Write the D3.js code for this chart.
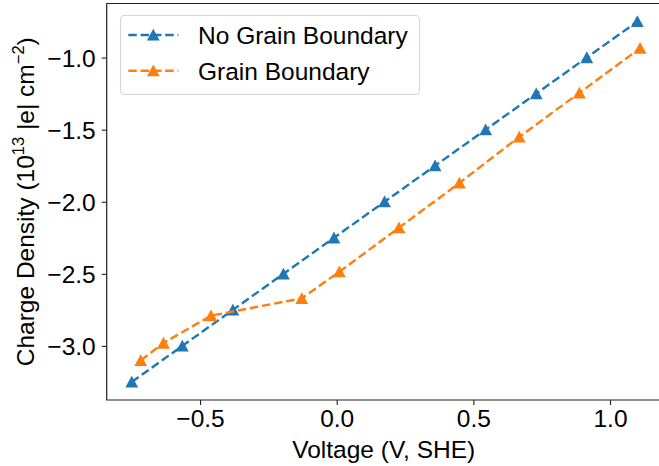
<!DOCTYPE html>
<html>
<head>
<meta charset="utf-8">
<script src="https://cdn.jsdelivr.net/npm/d3@7"></script>
<style>
  body { margin: 0; background: #fff; }
  svg { display: block; font-family: "Liberation Sans", Arial, Helvetica, sans-serif; }
</style>
</head>
<body>
<svg width="659" height="466"></svg>
<script>
const width = 659, height = 466;
const svg = d3.select("svg");

// data
const noGbVoltage = [-0.75, -0.565, -0.38, -0.195, -0.01, 0.175, 0.36, 0.545, 0.73, 0.915, 1.1];
const noGbCharge = [-3.25, -3.0, -2.75, -2.5, -2.25, -2.0, -1.75, -1.5, -1.25, -1.0, -0.75];
const gbVoltage = [-0.717, -0.634, -0.46, -0.128, 0.01, 0.228, 0.449, 0.668, 0.888, 1.11];
const gbCharge = [-3.10, -2.98, -2.79, -2.67, -2.485, -2.18, -1.87, -1.55, -1.245, -0.935];
const xTicks = [-0.5, 0.0, 0.5, 1.0];
const yTicks = [-3.0, -2.5, -2.0, -1.5, -1.0];
const seriesNames = ["No Grain Boundary", "Grain Boundary"];
const seriesColors = ["#1f77b4", "#ff7f0e"];

const plotLeft = 106.7, plotBottom = 400, plotTop = 3.5;

const x = d3.scaleLinear().domain([-0.8416, 1.2]).range([plotLeft, plotLeft + 2.0416 * 273.3]);
const y = d3.scaleLinear().domain([-3.375, -0.625]).range([plotBottom, plotTop]);

const fontSize = 24.5;
const supSize = 16.5;
const fmt = d => d3.format(".1f")(d).replace("-", "\u2212");

// axes
const xAxis = svg.append("g")
    .attr("transform", `translate(0,${plotBottom})`)
    .call(d3.axisBottom(x).tickValues(xTicks).tickSize(5).tickPadding(5).tickFormat(fmt));
const yAxis = svg.append("g")
    .attr("transform", `translate(${plotLeft},0)`)
    .call(d3.axisLeft(y).tickValues(yTicks).tickSize(5).tickPadding(6).tickFormat(fmt));

[xAxis, yAxis].forEach(g => {
    g.select(".domain").remove();
    g.selectAll(".tick line").attr("stroke", "#222").attr("stroke-width", 1.1);
    g.selectAll(".tick text").attr("font-size", fontSize).attr("fill", "#000")
        .attr("font-family", "Liberation Sans, Arial, sans-serif");
});
yAxis.selectAll(".tick text").attr("dy", "0.36em");

// spines (left, bottom, top; the right one falls outside the picture)
svg.append("path")
    .attr("d", `M${x.range()[1]},${plotTop}H${plotLeft}V${plotBottom}H${x.range()[1]}`)
    .attr("fill", "none").attr("stroke", "#222").attr("stroke-width", 1.2);

// series
const series = [
    { name: seriesNames[0], color: seriesColors[0], xs: noGbVoltage, ys: noGbCharge },
    { name: seriesNames[1], color: seriesColors[1], xs: gbVoltage, ys: gbCharge }
];

function triangle(sel, cx, cy, color) {
    sel.append("path")
        .attr("d", "M0,-6.2L-6.4,5.6L6.4,5.6Z")
        .attr("transform", `translate(${cx},${cy})`)
        .attr("fill", color);
}

const line = d3.line().x(d => x(d[0])).y(d => y(d[1]));

series.forEach(s => {
    const pts = s.xs.map((v, i) => [v, s.ys[i]]);
    const g = svg.append("g");
    g.append("path")
        .datum(pts)
        .attr("d", line)
        .attr("fill", "none")
        .attr("stroke", s.color)
        .attr("stroke-width", 2.4)
        .attr("stroke-dasharray", "8.5,3.8");
    pts.forEach(p => triangle(g, x(p[0]), y(p[1]), s.color));
});

// legend
const legend = svg.append("g");
legend.append("rect")
    .attr("x", 120.5).attr("y", 15.5).attr("width", 299).attr("height", 79)
    .attr("rx", 4).attr("fill", "#fff").attr("fill-opacity", 0.8)
    .attr("stroke", "#d6d6d6").attr("stroke-width", 1.1);
const rowsY = [35, 70.7];
series.forEach((s, i) => {
    legend.append("line")
        .attr("x1", 128.3).attr("x2", 178.3)
        .attr("y1", rowsY[i]).attr("y2", rowsY[i])
        .attr("stroke", s.color).attr("stroke-width", 2.4)
        .attr("stroke-dasharray", "8.5,3.8");
    triangle(legend, 153.3, rowsY[i], s.color);
    legend.append("text")
        .attr("x", 198).attr("y", rowsY[i]).attr("dy", "0.36em")
        .attr("font-size", fontSize)
        .text(s.name);
});

// axis labels
svg.append("text")
    .attr("x", x(0) + 47).attr("y", 457.5)
    .attr("text-anchor", "middle")
    .attr("font-size", fontSize)
    .text("Voltage (V, SHE)");

const yl = svg.append("text")
    .attr("transform", `translate(33.5,${(plotTop + plotBottom) / 2}) rotate(-90)`)
    .attr("text-anchor", "middle")
    .attr("font-size", fontSize);
yl.append("tspan").text("Charge Density (10");
yl.append("tspan").attr("font-size", supSize).attr("dy", -10).text("13");
yl.append("tspan").attr("dy", 10).text(" |e| cm");
yl.append("tspan").attr("font-size", supSize).attr("dy", -10).text("\u22122");
yl.append("tspan").attr("dy", 10).text(")");
</script>
</body>
</html>
